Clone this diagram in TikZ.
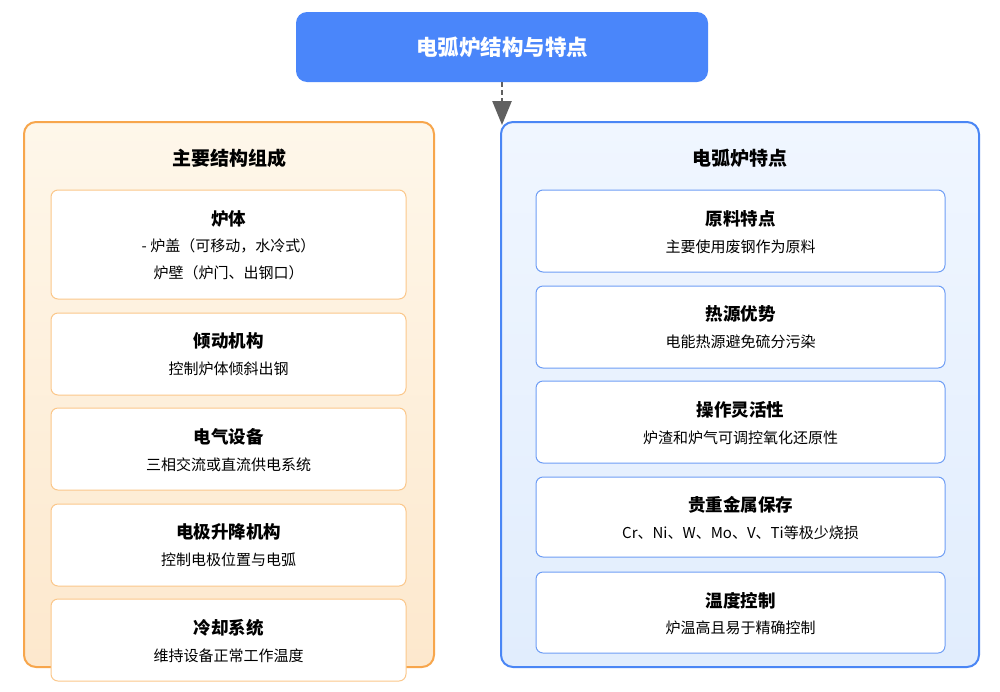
\documentclass[tikz,border=0pt]{standalone}
\usepackage{fontspec}
\setmainfont{Noto Sans CJK SC}
\usetikzlibrary{arrows.meta,shadows}
\definecolor{headblue}{HTML}{4A86FA}
\definecolor{orgborder}{HTML}{F7A64C}
\definecolor{orgtop}{HTML}{FEF7EA}
\definecolor{orgbot}{HTML}{FDE8CD}
\definecolor{orgcard}{HTML}{FBC78A}
\definecolor{bluborder}{HTML}{4A86F5}
\definecolor{blutop}{HTML}{F0F6FF}
\definecolor{blubot}{HTML}{E1EDFD}
\definecolor{blucard}{HTML}{6E9DF5}
\definecolor{arrowgray}{HTML}{606060}
\begin{document}
\begin{tikzpicture}[x=1pt,y=-1pt,
  header/.style={rectangle,rounded corners=11pt,fill=headblue,draw=none,minimum width=412pt,minimum height=70pt,inner sep=0pt,text=white,font=\fontsize{21.5}{25}\selectfont\bfseries},
  panelorg/.style={rectangle,rounded corners=12pt,draw=orgborder,line width=2pt,top color=orgtop,bottom color=orgbot,minimum width=410pt,minimum height=545pt,inner sep=0pt},
  panelblu/.style={rectangle,rounded corners=12pt,draw=bluborder,line width=2pt,top color=blutop,bottom color=blubot,minimum width=478pt,minimum height=545pt,inner sep=0pt},
  paneltitle/.style={font=\fontsize{19}{22}\selectfont\bfseries,text=black,inner sep=0pt},
  cardorg/.style={rectangle,rounded corners=7pt,fill=white,draw=orgcard,line width=1pt,minimum width=355pt,inner sep=0pt},
  cardblu/.style={rectangle,rounded corners=7pt,fill=white,draw=blucard,line width=1pt,minimum width=409pt,inner sep=0pt},
  ctitle/.style={font=\fontsize{17.5}{20}\selectfont\bfseries,text=black,inner sep=0pt},
  csub/.style={font=\fontsize{15}{18}\selectfont,text=black,inner sep=0pt},
  conn/.style={draw=arrowgray,line width=2.5pt,dash pattern=on 5pt off 3pt,-{Triangle[length=24pt,width=19pt]}}
]
\useasboundingbox (0,0) rectangle (1000,691);
\fill[white] (0,0) rectangle (1000,691);

% header
\node[header] (head) at (502,47) {电弧炉结构与特点};

% panels
\node[panelorg] (lp) at (229,394.5) {};
\node[panelblu] (rp) at (740,394.5) {};
\node[paneltitle] (lpt) at (229,158) {主要结构组成};
\node[paneltitle] (rpt) at (740,158) {电弧炉特点};

% arrow
\coordinate (arrend) at (502,125);
\draw[conn] (head.south) -- (arrend);

% left cards
\node[cardorg,minimum height=109pt] (l1) at (228.5,244.5) {};
\node[ctitle] (l1t) at (228.5,219) {炉体};
\node[csub] (l1a) at (228.5,246) {- 炉盖（可移动，水冷式）};
\node[csub] (l1b) at (228.5,273) {炉壁（炉门、出钢口）};

\node[cardorg,minimum height=82pt] (l2) at (228.5,354) {};
\node[ctitle] (l2t) at (228.5,341) {倾动机构};
\node[csub] (l2a) at (228.5,369) {控制炉体倾斜出钢};

\node[cardorg,minimum height=82pt] (l3) at (228.5,449) {};
\node[ctitle] (l3t) at (228.5,437) {电气设备};
\node[csub] (l3a) at (228.5,465) {三相交流或直流供电系统};

\node[cardorg,minimum height=82pt] (l4) at (228.5,545) {};
\node[ctitle] (l4t) at (228.5,532) {电极升降机构};
\node[csub] (l4a) at (228.5,560) {控制电极位置与电弧};

\node[cardorg,minimum height=82pt] (l5) at (228.5,640) {};
\node[ctitle] (l5t) at (228.5,628) {冷却系统};
\node[csub] (l5a) at (228.5,656) {维持设备正常工作温度};

% right cards
\node[cardblu,minimum height=82pt] (r1) at (740.5,231) {};
\node[ctitle] (r1t) at (740.5,219) {原料特点};
\node[csub] (r1a) at (740.5,247) {主要使用废钢作为原料};

\node[cardblu,minimum height=82pt] (r2) at (740.5,327) {};
\node[ctitle] (r2t) at (740.5,314) {热源优势};
\node[csub] (r2a) at (740.5,342) {电能热源避免硫分污染};

\node[cardblu,minimum height=82pt] (r3) at (740.5,422) {};
\node[ctitle] (r3t) at (740.5,410) {操作灵活性};
\node[csub] (r3a) at (740.5,438) {炉渣和炉气可调控氧化还原性};

\node[cardblu,minimum height=80pt] (r4) at (740.5,517) {};
\node[ctitle] (r4t) at (740.5,505) {贵重金属保存};
\node[csub] (r4a) at (740.5,533) {Cr、Ni、W、Mo、V、Ti等极少烧损};

\node[cardblu,minimum height=81pt] (r5) at (740.5,612.5) {};
\node[ctitle] (r5t) at (740.5,601) {温度控制};
\node[csub] (r5a) at (740.5,628) {炉温高且易于精确控制};
\end{tikzpicture}
\end{document}
